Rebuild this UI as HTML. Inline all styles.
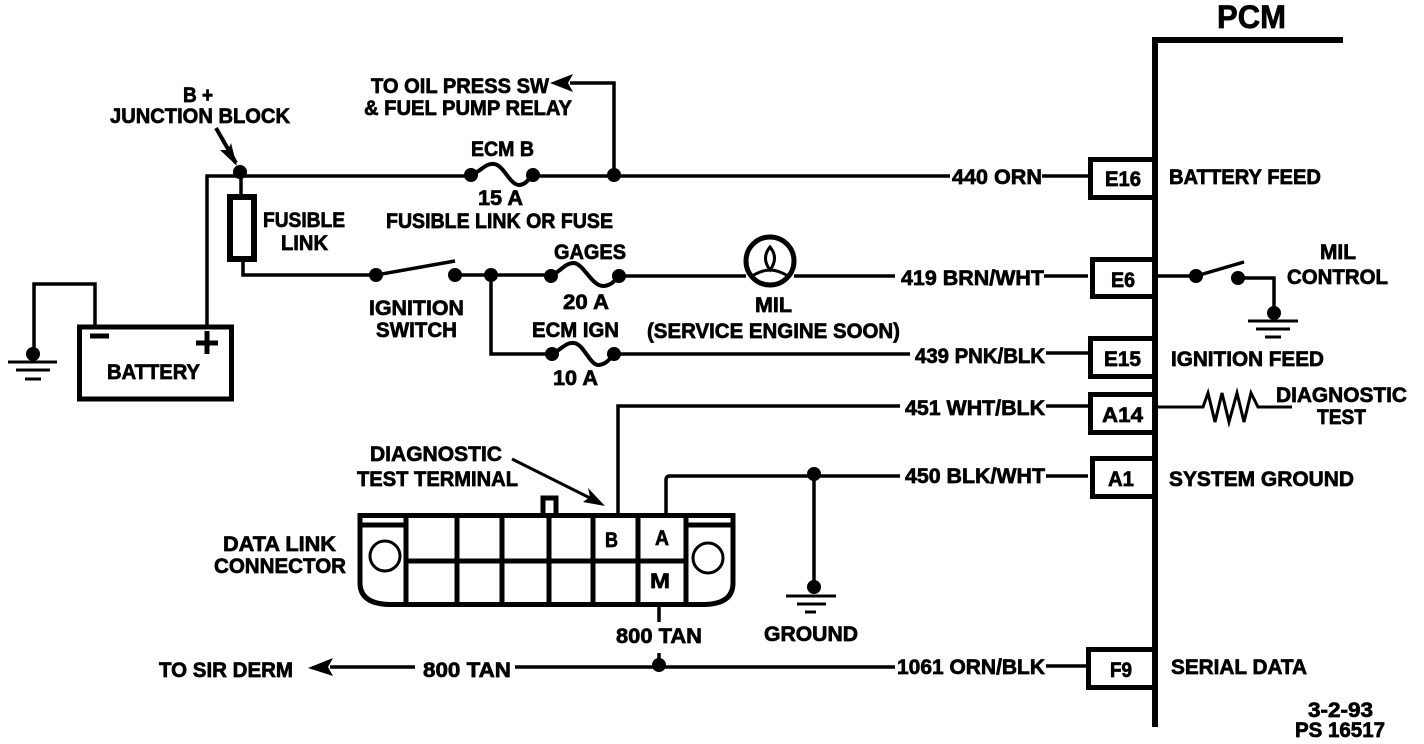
<!DOCTYPE html>
<html>
<head>
<meta charset="utf-8">
<style>
html,body{margin:0;padding:0;background:#fff;width:1424px;height:744px;overflow:hidden}
svg{display:block}
text{font-family:"Liberation Sans",sans-serif;font-weight:bold;font-size:21px;fill:#000;stroke:#000;stroke-width:.7px}
</style>
</head>
<body>
<svg width="1424" height="744" viewBox="0 0 1424 744" xmlns="http://www.w3.org/2000/svg">
<g fill="none" stroke="#000" stroke-width="3.500">
  <path d="M207 325V176H470M533 176H950"/>
  <path d="M614 176V83H570"/>
  <path d="M1042 176H1088M1044 276H1088M1046 353H1088M1046 406H1088M1046 476H1088M1046 666H1088"/>
  <path d="M241 176V195M243 262V275H376"/>
  <path d="M455 275H550M491 275V354H552"/>
  <path d="M619 276H746M794 276H895M614 354H910"/>
  <path d="M618 513V406H900M666 513V480Q666 476 670 476H900M814 476V588"/>
  <path d="M659 607V622M659 653V666M330 667H415M515 667H895"/>
  <path d="M34 355V284H95V325"/>
  <path d="M376 275L455 261"/>
  <path d="M1157 276H1196L1244 262M1238 278H1274V313"/>
  <path d="M1157 407H1203L1208 393L1215 422L1222 393L1229 422L1237 393L1244 422L1251 393L1258 407H1292" stroke-width="3"/>
  <path d="M472 175C482 170 486 163 494 164C504 165 510 186 520 185C526 184 528 180 532 175" stroke-width="4"/>
  <path d="M551 276C561 271 565 263 574 263C584 264 592 287 604 286C612 285 614 281 619 276" stroke-width="4"/>
  <path d="M552 354C562 349 566 342 574 343C584 344 590 366 599 365C606 364 609 360 614 354" stroke-width="4"/>
</g>
<g fill="none" stroke="#000" stroke-width="5">
  <rect x="230" y="197" width="24" height="62" stroke-width="6"/>
  <rect x="79.500" y="327" width="152" height="72"/>
  <path d="M90 336H109M196 343H218M207 331V354"/>
  <circle cx="770" cy="261" r="24"/>
  <path d="M360 515.500H733V583Q733 604 704 604.500H390Q360 604 360 583V515.500Z"/>
  <path d="M406 516V604M457 516V604M502 516V604M549 516V604M593 516V604M638 516V604M686 516V604M406 561H686M360 525H405M687 525H733"/>
  <path d="M543 513V498H556V513"/>
  <path d="M1155 38V727" stroke-width="6"/>
  <path d="M1152 40H1343" stroke-width="6"/>
  <rect x="1090.500" y="159.500" width="65" height="38"/>
  <rect x="1092.500" y="259.500" width="63" height="37"/>
  <rect x="1090.500" y="338.500" width="65" height="38"/>
  <rect x="1090.500" y="394.500" width="65" height="38"/>
  <rect x="1092.500" y="458.500" width="63" height="38"/>
  <rect x="1088.500" y="649.500" width="67" height="38"/>
</g>
<g fill="none" stroke="#000" stroke-width="3">
  <circle cx="385" cy="556" r="15"/>
  <circle cx="708" cy="558" r="15"/>
  <path d="M770 247Q761 258 770 270Q779 258 770 247Z"/>
  <path d="M752 276Q762 270 770 270Q778 270 788 276"/>
  <path d="M216 128L236 163" stroke-width="4"/>
  <path d="M512 459L600 503"/>
</g>
<g stroke="#000" stroke-width="3">
  <path d="M8 362H57M16 370H50M25 379H41"/>
  <path d="M786 596H836M797 604H826M805 612H816"/>
  <path d="M1248 321H1298M1256 329H1290M1265 337H1281"/>
</g>
<g fill="#000">
  <circle cx="240" cy="172" r="7"/>
  <circle cx="471" cy="175" r="7"/><circle cx="533" cy="175" r="7"/>
  <circle cx="614" cy="175" r="7"/>
  <circle cx="376" cy="275" r="7"/><circle cx="455" cy="275" r="7"/><circle cx="491" cy="275" r="7"/>
  <circle cx="551" cy="276" r="7"/><circle cx="619" cy="276" r="7"/>
  <circle cx="552" cy="354" r="7"/><circle cx="614" cy="354" r="7"/>
  <circle cx="33" cy="354" r="7"/>
  <circle cx="814" cy="474" r="7"/><circle cx="814" cy="587" r="7"/>
  <circle cx="659" cy="665" r="7"/>
  <circle cx="1196" cy="276" r="7"/><circle cx="1238" cy="278" r="7"/><circle cx="1274" cy="313" r="7"/>
  <path d="M308 668L333 658L328 667L333 676Z"/>
  <path d="M550 83L573 74L568 83L573 92Z"/>
  <path d="M237 166L220 150L228 150L231 143Z"/>
  <path d="M605 506L583 502L590 497L588 488Z"/>
</g>
<text x="1217" y="28" textLength="69" lengthAdjust="spacingAndGlyphs" style="font-size:32px">PCM</text>
<text x="183" y="102" textLength="30" lengthAdjust="spacingAndGlyphs">B +</text>
<text x="110" y="123" textLength="180" lengthAdjust="spacingAndGlyphs">JUNCTION BLOCK</text>
<text x="371" y="93" textLength="178" lengthAdjust="spacingAndGlyphs">TO OIL PRESS SW</text>
<text x="364" y="115" textLength="208" lengthAdjust="spacingAndGlyphs">&amp; FUEL PUMP RELAY</text>
<text x="471" y="156" textLength="63" lengthAdjust="spacingAndGlyphs">ECM B</text>
<text x="478" y="205" textLength="45" lengthAdjust="spacingAndGlyphs">15 A</text>
<text x="386" y="228" textLength="227" lengthAdjust="spacingAndGlyphs">FUSIBLE LINK OR FUSE</text>
<text x="263" y="227" textLength="82" lengthAdjust="spacingAndGlyphs">FUSIBLE</text>
<text x="281" y="250" textLength="47" lengthAdjust="spacingAndGlyphs">LINK</text>
<text x="369" y="315" textLength="95" lengthAdjust="spacingAndGlyphs">IGNITION</text>
<text x="376" y="337" textLength="81" lengthAdjust="spacingAndGlyphs">SWITCH</text>
<text x="554" y="259" textLength="72" lengthAdjust="spacingAndGlyphs">GAGES</text>
<text x="563" y="309" textLength="46" lengthAdjust="spacingAndGlyphs">20 A</text>
<text x="532" y="337" textLength="87" lengthAdjust="spacingAndGlyphs">ECM IGN</text>
<text x="553" y="385" textLength="45" lengthAdjust="spacingAndGlyphs">10 A</text>
<text x="755" y="312" textLength="37" lengthAdjust="spacingAndGlyphs">MIL</text>
<text x="647" y="338" textLength="253" lengthAdjust="spacingAndGlyphs">(SERVICE ENGINE SOON)</text>
<text x="107" y="379" textLength="93" lengthAdjust="spacingAndGlyphs">BATTERY</text>
<text x="952" y="184" textLength="90" lengthAdjust="spacingAndGlyphs">440 ORN</text>
<text x="901" y="285" textLength="143" lengthAdjust="spacingAndGlyphs">419 BRN/WHT</text>
<text x="915" y="363" textLength="130" lengthAdjust="spacingAndGlyphs">439 PNK/BLK</text>
<text x="905" y="415" textLength="140" lengthAdjust="spacingAndGlyphs">451 WHT/BLK</text>
<text x="905" y="483" textLength="140" lengthAdjust="spacingAndGlyphs">450 BLK/WHT</text>
<text x="897" y="674" textLength="148" lengthAdjust="spacingAndGlyphs">1061 ORN/BLK</text>
<text x="423" y="677" textLength="88" lengthAdjust="spacingAndGlyphs">800 TAN</text>
<text x="616" y="643" textLength="86" lengthAdjust="spacingAndGlyphs">800 TAN</text>
<text x="159" y="677" textLength="134" lengthAdjust="spacingAndGlyphs">TO SIR DERM</text>
<text x="764" y="641" textLength="94" lengthAdjust="spacingAndGlyphs">GROUND</text>
<text x="223" y="551" textLength="113" lengthAdjust="spacingAndGlyphs">DATA LINK</text>
<text x="214" y="573" textLength="132" lengthAdjust="spacingAndGlyphs">CONNECTOR</text>
<text x="370" y="461" textLength="132" lengthAdjust="spacingAndGlyphs">DIAGNOSTIC</text>
<text x="357" y="486" textLength="161" lengthAdjust="spacingAndGlyphs">TEST TERMINAL</text>
<text x="605" y="547" textLength="13" lengthAdjust="spacingAndGlyphs">B</text>
<text x="655" y="545" textLength="14" lengthAdjust="spacingAndGlyphs">A</text>
<text x="650" y="588" textLength="20" lengthAdjust="spacingAndGlyphs">M</text>
<text x="1105" y="186" textLength="36" lengthAdjust="spacingAndGlyphs">E16</text>
<text x="1111" y="287" textLength="24" lengthAdjust="spacingAndGlyphs">E6</text>
<text x="1104" y="366" textLength="37" lengthAdjust="spacingAndGlyphs">E15</text>
<text x="1102" y="422" textLength="41" lengthAdjust="spacingAndGlyphs">A14</text>
<text x="1108" y="486" textLength="26" lengthAdjust="spacingAndGlyphs">A1</text>
<text x="1110" y="677" textLength="22" lengthAdjust="spacingAndGlyphs">F9</text>
<text x="1169" y="184" textLength="152" lengthAdjust="spacingAndGlyphs">BATTERY FEED</text>
<text x="1320" y="259" textLength="36" lengthAdjust="spacingAndGlyphs">MIL</text>
<text x="1287" y="284" textLength="101" lengthAdjust="spacingAndGlyphs">CONTROL</text>
<text x="1171" y="366" textLength="153" lengthAdjust="spacingAndGlyphs">IGNITION FEED</text>
<text x="1276" y="402" textLength="131" lengthAdjust="spacingAndGlyphs">DIAGNOSTIC</text>
<text x="1317" y="424" textLength="49" lengthAdjust="spacingAndGlyphs">TEST</text>
<text x="1169" y="486" textLength="185" lengthAdjust="spacingAndGlyphs">SYSTEM GROUND</text>
<text x="1171" y="674" textLength="136" lengthAdjust="spacingAndGlyphs">SERIAL DATA</text>
<text x="1308" y="717" textLength="65" lengthAdjust="spacingAndGlyphs">3-2-93</text>
<text x="1295" y="737" textLength="90" lengthAdjust="spacingAndGlyphs">PS 16517</text>
</svg>
</body>
</html>
